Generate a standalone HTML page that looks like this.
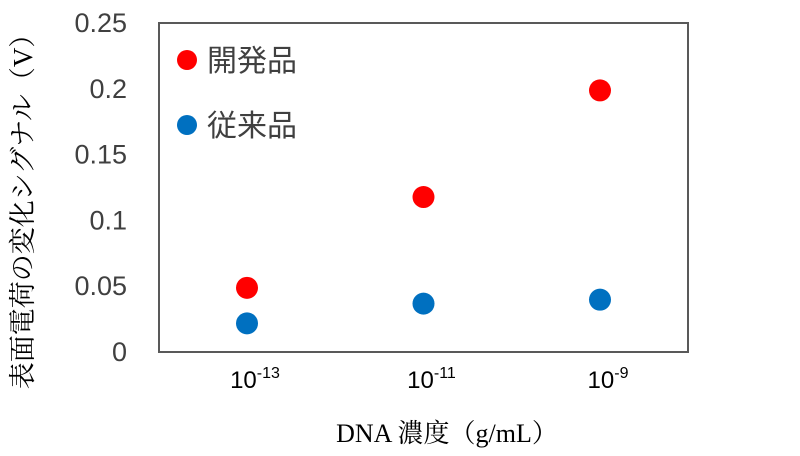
<!DOCTYPE html>
<html><head><meta charset="utf-8"><style>
body{margin:0;background:#fff;width:800px;height:451px;overflow:hidden}
svg text{font-family:"Liberation Sans","Noto Sans CJK JP",sans-serif}
.serif{font-family:"Liberation Serif","Noto Serif CJK SC",serif !important}
</style></head><body>
<svg id="chart" width="800" height="451" xmlns="http://www.w3.org/2000/svg">
<rect x="159" y="23" width="529" height="329" fill="#fff" stroke="#595959" stroke-width="2"/>
<g id="yticks"></g><g id="xticks"></g><g id="points"></g>
<g>
<circle cx="187" cy="60" r="10" fill="#ff0000"/>
<text x="207" y="71" font-size="30" fill="#404040">開発品</text>
<circle cx="187" cy="125" r="10" fill="#0070c0"/>
<text x="207" y="136" font-size="30" fill="#404040">従来品</text>
</g>
<text class="serif" x="447" y="442" font-size="26" text-anchor="middle" fill="#000">DNA 濃度（g/mL）</text>
<text class="serif" transform="translate(32,205) rotate(-90)" font-size="27" text-anchor="middle" fill="#000">表面電荷の変化シグナル（V）</text>
</svg>
<script>
const categories=["-13","-11","-9"];
const developed=[0.048,0.117,0.198];
const conventional=[0.021,0.036,0.039];
const yTicks=[0,0.05,0.1,0.15,0.2,0.25];
const yTickLabels=["0","0.05","0.1","0.15","0.2","0.25"];
const NS="http://www.w3.org/2000/svg";
function y(v){return 351-v*1316;}
function x(i){return 247+i*176.5;}
const yt=document.getElementById('yticks');
yTicks.forEach((v,i)=>{const t=document.createElementNS(NS,'text');


t.setAttribute('x',127);t.setAttribute('y',y(v)+10);t.setAttribute('font-size','27');
t.setAttribute('text-anchor','end');t.setAttribute('fill','#404040');t.textContent=yTickLabels[i];yt.appendChild(t);});
const xt=document.getElementById('xticks');
categories.forEach((c,i)=>{const t=document.createElementNS(NS,'text');


t.setAttribute('x',x(i)+8);t.setAttribute('y',388);t.setAttribute('font-size','24');
t.setAttribute('text-anchor','middle');t.setAttribute('fill','#000');
t.innerHTML='10<tspan font-size="16" dy="-10">'+c+'</tspan>';xt.appendChild(t);});
const pg=document.getElementById('points');
function draw(arr,color,name){arr.forEach((v,i)=>{const c=document.createElementNS(NS,'circle');


c.setAttribute('cx',x(i));c.setAttribute('cy',y(v));c.setAttribute('r',11);c.setAttribute('fill',color);pg.appendChild(c);});}
draw(developed,'#ff0000','point-developed');
draw(conventional,'#0070c0','point-conventional');
</script>
</body></html>
